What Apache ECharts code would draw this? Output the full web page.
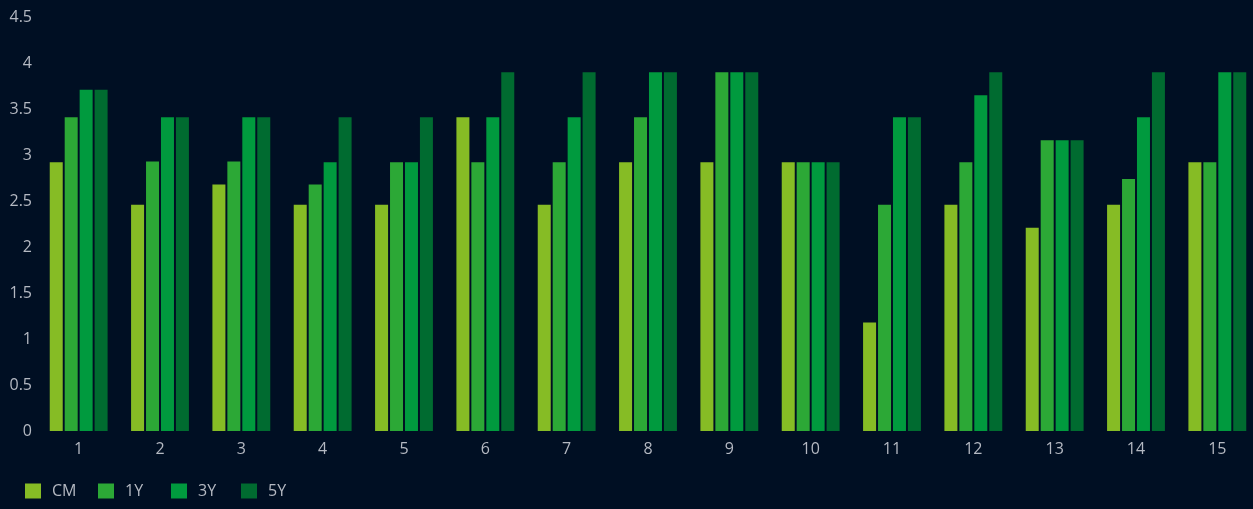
<!DOCTYPE html>
<html>
<head>
<meta charset="utf-8">
<script src="https://cdn.jsdelivr.net/npm/echarts@6/dist/echarts.min.js"></script>
<style>
html,body{margin:0;padding:0;background:#000f23;overflow:hidden;width:1253px;height:509px;}
#c{width:1258px;height:509px;}
</style>
</head>
<body>
<div id="c"></div>
<script>
const categories = ['1','2','3','4','5','6','7','8','9','10','11','12','13','14','15'];
const seriesNames = ['CM','1Y','3Y','5Y'];
const cm  = [2.92,2.46,2.68,2.46,2.46,3.41,2.46,2.92,2.92,2.92,1.18,2.46,2.21,2.46,2.92];
const y1  = [3.41,2.93,2.93,2.68,2.92,2.92,2.92,3.41,3.90,2.92,2.46,2.92,3.16,2.74,2.92];
const y3  = [3.71,3.41,3.41,2.92,2.92,3.41,3.41,3.90,3.90,2.92,3.41,3.65,3.16,3.41,3.90];
const y5  = [3.71,3.41,3.41,3.41,3.41,3.90,3.90,3.90,3.90,2.92,3.41,3.90,3.16,3.90,3.90];
const colors = ['#86bc25','#2ca836','#009a3e','#006b30'];
const yTicks = {min:0, max:4.5, interval:0.5};

const textColor = '#b4b9c2';
const font = '"Open Sans", sans-serif';
const chart = echarts.init(document.getElementById('c'));
const data = [cm, y1, y3, y5];
const legendLefts = [25, 98, 171, 241];
chart.setOption({
  backgroundColor: '#000f23',
  animation: false,
  color: colors,
  grid: {left: 38, top: 17, right: 0, bottom: 78, containLabel: false},
  legend: seriesNames.map((n, i) => ({
    left: legendLefts[i], top: 483, padding: 0, itemWidth: 16, itemHeight: 15,
    icon: 'rect',
    textStyle: {color: textColor, fontFamily: font, fontSize: 16, padding: [0,0,0,6]},
    data: [n]
  })),
  xAxis: {
    type: 'category', data: categories,
    axisLine: {show: false}, axisTick: {show: false},
    axisLabel: {color: textColor, fontFamily: font, fontSize: 16, margin: 10}
  },
  yAxis: {
    type: 'value', min: yTicks.min, max: yTicks.max, interval: yTicks.interval,
    splitLine: {show: false}, axisLine: {show: false}, axisTick: {show: false},
    axisLabel: {color: textColor, fontFamily: font, fontSize: 16, margin: 6}
  },
  series: seriesNames.map((n, i) => ({
    name: n, type: 'bar', data: data[i], barWidth: 13, barGap: '15%',
    itemStyle: {color: colors[i]}
  }))
});
</script>
</body>
</html>
